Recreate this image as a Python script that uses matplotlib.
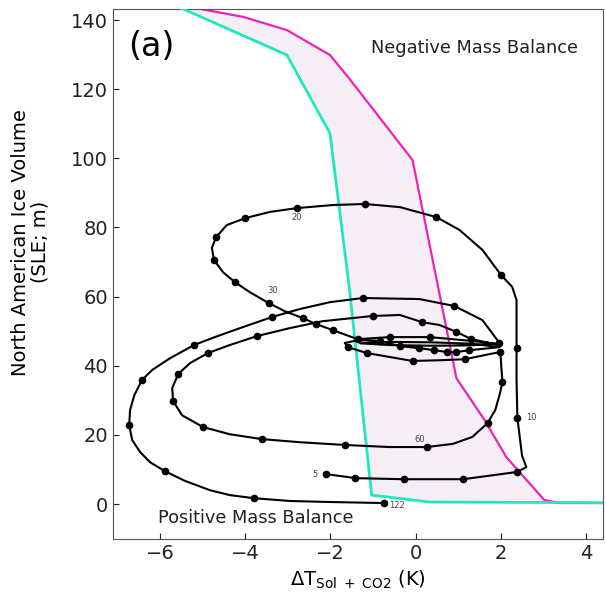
import matplotlib
matplotlib.use("Agg")
import matplotlib.pyplot as plt
import numpy as np

# threshold curves (x = temperature anomaly, y = ice volume)
cyan_x = [-5.6, -3.02, -2.01, -1.55, -1.03, 0.33, 4.5]
cyan_y = [144.0, 129.9, 107.3, 62.0, 2.6, 0.6, 0.4]
mag_x = [-5.4, -4.04, -3.02, -2.01, -1.55, -0.07, 0.96, 1.62, 2.13, 3.02, 3.37, 4.5]
mag_y = [144.0, 140.9, 137.1, 129.9, 123.0, 99.5, 36.4, 24.3, 13.6, 1.2, 0.3, 0.3]

# ice-volume trajectory (line path)
traj_x = [-2.11, -1.41, -0.28, 1.12, 2.39, 2.60, 2.50, 2.39, 2.37, 2.37, 2.37, 2.27,
          2.01, 1.57, 1.03, 0.49, -0.37, -1.19, -1.94, -2.79, -3.42, -4.00, -4.43,
          -4.68, -4.78, -4.73, -4.52, -4.24, -3.89, -3.44, -3.07, -2.65, -2.34, -1.94,
          -1.36,
          -0.61, 0.33, 1.31, 1.73, 1.97,
          1.31, 0.96, 0.56, 0.16, -0.37, -1.01, -1.48, -2.18, -2.95, -3.72, -4.36,
          -4.87, -5.29, -5.57, -5.71, -5.69, -5.48, -4.99, -4.36, -3.61, -2.72, -1.66,
          -0.61, 0.26, 0.87, 1.33, 1.69, 1.87, 1.97, 2.04, 2.01, 1.99,
          1.15, 0.56, -0.07, -1.15, -1.59, -1.66, -1.36, -0.84, -0.37, 0.09, 0.44,
          0.73, 0.96, 1.26, 1.97,
          1.31, 0.33, -0.61, -1.30, -0.61, 0.33, 1.31, 1.97,
          1.57, 0.91, 0.09, -1.24, -2.01, -2.72, -3.37, -4.12, -4.71, -5.20, -5.76,
          -6.18, -6.42, -6.60, -6.70, -6.72, -6.65, -6.46, -6.23, -5.88, -5.41, -4.82,
          -4.36, -3.79, -2.95, -2.01, -0.73]
traj_y = [8.7, 7.5, 7.2, 7.2, 9.3, 10.7, 14.0, 24.9, 36.0, 45.1, 59.0, 62.8,
          66.2, 73.5, 79.3, 83.0, 85.9, 86.8, 86.5, 85.6, 84.5, 82.7, 80.7,
          77.2, 74.1, 70.6, 67.1, 64.2, 61.3, 58.1, 55.8, 53.8, 52.1, 50.3,
          47.7,
          48.3, 48.3, 47.2, 46.6, 46.0,
          47.7, 49.8, 51.8, 52.6, 54.7, 54.4, 53.8, 52.9, 50.9, 48.6, 46.0,
          43.7, 40.8, 37.6, 33.6, 29.8, 25.7, 22.3, 20.2, 18.8, 17.9, 17.1,
          16.5, 16.5, 17.4, 19.4, 23.4, 27.2, 31.5, 35.3, 40.2, 44.0,
          41.9, 41.6, 41.4, 43.7, 45.4, 46.6, 47.4, 47.2, 45.7, 45.1, 44.5,
          44.0, 44.0, 44.5, 45.4,
          46.4, 46.8, 46.9, 46.5, 46.0, 45.8, 45.9, 46.6,
          53.2, 57.3, 59.3, 59.6, 58.4, 56.4, 54.1, 50.9, 48.3, 46.0, 42.2,
          38.8, 35.9, 31.5, 27.2, 22.9, 18.5, 15.0, 12.1, 9.5, 6.7, 4.0,
          2.6, 1.7, 0.9, 0.6, 0.3]

# dots along the trajectory
dot_x = [-2.11, -1.41, -0.28, 1.12, 2.39, 2.39, 2.37, 2.01, 0.49, -1.19, -2.79,
         -4.00, -4.68, -4.73, -4.24, -3.44, -2.65, -2.34, -1.94, -1.36,
         -0.61, 0.33, 1.31, 0.96, 0.16, -1.01,
         -3.72, -4.87, -5.57, -5.69, -4.99, -3.61, -1.66, 0.26, 1.69, 2.04, 1.99,
         1.15, -0.07, -1.15, -1.59, -0.84, -0.37, 0.09, 0.44, 0.73, 0.96, 1.26, 1.97,
         0.91, -1.24, -3.37, -5.20, -6.42, -6.72, -5.88, -3.79, -0.73]
dot_y = [8.7, 7.5, 7.2, 7.2, 9.3, 24.9, 45.1, 66.2, 83.0, 86.8, 85.6,
         82.7, 77.2, 70.6, 64.2, 58.1, 53.8, 52.1, 50.3, 47.7,
         48.3, 48.3, 47.7, 49.8, 52.6, 54.4,
         48.6, 43.7, 37.6, 29.8, 22.3, 18.8, 17.1, 16.5, 23.4, 35.3, 44.0,
         41.9, 41.4, 43.7, 45.4, 47.2, 45.7, 45.1, 44.5, 44.0, 44.0, 44.5, 46.6,
         57.3, 59.6, 54.1, 46.0, 35.9, 22.9, 9.5, 1.7, 0.3]

# time labels (kyr)
time_labels = ["5", "10", "20", "30", "60"]
time_x = [-2.37, 2.72, -2.79, -3.35, 0.09]
time_y = [8.7, 24.9, 83.0, 61.9, 18.8]

fig = plt.figure(figsize=(6.06, 5.95), dpi=100)
ax = fig.add_axes([0.1865, 0.0941, 0.8086, 0.8908])

poly_x = cyan_x + mag_x[::-1]
poly_y = cyan_y + mag_y[::-1]
ax.fill(poly_x, poly_y, color="#eadcea", alpha=0.45, lw=0, zorder=1)
ax.plot(mag_x, mag_y, color="#ee22bb", lw=1.6, zorder=2)
ax.plot(cyan_x, cyan_y, color="#1ee8bd", lw=2.0, zorder=3)

ax.plot(traj_x, traj_y, color="black", lw=1.5, zorder=4)
ax.plot(dot_x, dot_y, "o", color="black", ms=4.5, zorder=5)

for lab, tx, ty in zip(time_labels, time_x, time_y):
    ax.text(tx, ty, lab, fontsize=6, color="#444444", ha="center", va="center", zorder=6)
ax.text(-0.63, -0.3, "122", fontsize=6, color="#444444", ha="left", va="center", zorder=6)

ax.text(1.38, 131.9, "Negative Mass Balance", fontsize=12.8, color="#222222",
        ha="center", va="center")
ax.text(-3.74, -4.05, "Positive Mass Balance", fontsize=12.8, color="#222222",
        ha="center", va="center")
ax.text(0.03, 0.93, "(a)", transform=ax.transAxes, fontsize=24, ha="left", va="center")

ax.set_xlim(-7.10, 4.40)
ax.set_ylim(-10.1, 143.2)
ax.set_xticks([-6, -4, -2, 0, 2, 4])
ax.set_yticks(np.arange(0, 141, 20))
ax.tick_params(direction="in", length=4, labelsize=14, colors="#222222")
for sp in ax.spines.values():
    sp.set_color("#555555")

ax.set_xlabel(r"$\Delta$T$_{\rm Sol\ +\ CO2}$ (K)", fontsize=14)
ax.set_ylabel("North American Ice Volume\n(SLE; m)", fontsize=14, linespacing=1.0)
ax.yaxis.set_label_coords(-0.13, 0.56)

fig.savefig("out.png", dpi=100)
